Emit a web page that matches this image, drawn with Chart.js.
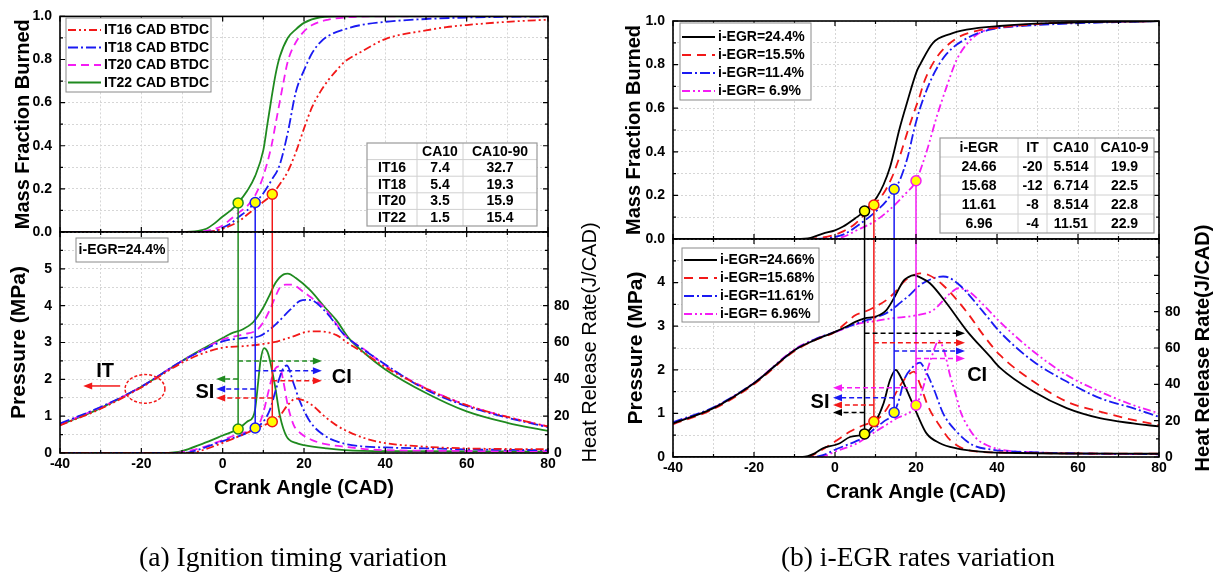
<!DOCTYPE html>
<html>
<head>
<meta charset="utf-8">
<title>Mass fraction burned, pressure and heat release rate</title>
<script src="https://cdn.jsdelivr.net/npm/chart.js@4.4.1/dist/chart.umd.min.js"></script>
<style>
  html, body { margin: 0; padding: 0; background: #fff; }
  #page { position: relative; width: 1215px; height: 577px; overflow: hidden; }
  #page canvas { position: absolute; left: 0; top: 0; }
  .caption { position: absolute; top: 542px; width: 600px; text-align: center; line-height: 30px;
             font-family: "Liberation Serif", "Times New Roman", serif; font-size: 27.5px; color: #000; }
</style>
</head>
<body>
<div id="page">
  <canvas id="aTop" width="1215" height="577"></canvas>
  <canvas id="aBot" width="1215" height="577"></canvas>
  <canvas id="bTop" width="1215" height="577"></canvas>
  <canvas id="bBot" width="1215" height="577"></canvas>
  <div class="caption" style="left:-7px">(a) Ignition timing variation</div>
  <div class="caption" style="left:618px">(b) i-EGR rates variation</div>
</div>
<script>
// ========== DATA (a): ignition timing, i-EGR = 24.4% ==========
const itLabels = ['IT16 CAD BTDC', 'IT18 CAD BTDC', 'IT20 CAD BTDC', 'IT22 CAD BTDC'];

// mass fraction burned
const aMfbCA16 = [-40, -4, 0, 2, 4, 6, 8, 10, 12.2, 14, 16, 18, 20, 22, 24, 26, 28, 30, 34, 40, 50, 55, 60, 70, 80];
const aMfb16 = [0, 0, 0.015, 0.03, 0.05, 0.08, 0.11, 0.14, 0.175, 0.22, 0.28, 0.37, 0.48, 0.58, 0.65, 0.705, 0.75, 0.79, 0.835, 0.895, 0.935, 0.95, 0.96, 0.975, 0.985];
const aMfbCA18 = [-40, -6, -2, 0, 2, 4, 6, 8, 10, 12, 14, 16, 18, 20, 22, 24, 26, 30, 34, 40, 50, 60, 80];
const aMfb18 = [0, 0, 0.005, 0.02, 0.04, 0.07, 0.1, 0.137, 0.18, 0.24, 0.31, 0.46, 0.65, 0.75, 0.83, 0.88, 0.91, 0.94, 0.96, 0.975, 0.988, 0.995, 1];
const aMfbCA20 = [-40, -8, -4, 0, 2, 4, 6, 8, 10, 12, 13, 14, 15, 16, 18, 20, 22, 26, 30, 40, 80];
const aMfb20 = [0, 0, 0.005, 0.03, 0.06, 0.09, 0.12, 0.17, 0.26, 0.4, 0.5, 0.6, 0.7, 0.79, 0.88, 0.93, 0.96, 0.985, 0.995, 1, 1];
const aMfbCA22 = [-40, -10, -6, -4, -2, 0, 2, 3.8, 6, 8, 10, 11, 12, 13, 14, 16, 18, 20, 24, 30, 80];
const aMfb22 = [0, 0, 0.005, 0.015, 0.04, 0.072, 0.1, 0.135, 0.19, 0.26, 0.38, 0.5, 0.62, 0.73, 0.81, 0.9, 0.94, 0.97, 0.995, 1, 1];

// cylinder pressure (MPa)
const aPCA16 = [-40, -30, -20, -10, -5, 0, 5, 10, 13, 17, 21.5, 24, 28, 31, 35, 40, 50, 60, 70, 80];
const aP16 = [0.75, 1.2, 1.78, 2.45, 2.7, 2.86, 2.9, 2.96, 3.02, 3.15, 3.3, 3.3, 3.2, 2.97, 2.7, 2.33, 1.75, 1.3, 0.98, 0.72];
const aPCA18 = [-40, -30, -20, -10, -5, 0, 5, 9, 11, 13.3, 16.6, 19, 20.7, 22.5, 25.6, 30, 35, 40, 50, 60, 70, 80];
const aP18 = [0.8, 1.25, 1.8, 2.5, 2.78, 3.03, 3.12, 3.17, 3.3, 3.52, 3.89, 4.13, 4.16, 4.12, 3.8, 3.2, 2.78, 2.4, 1.72, 1.27, 0.96, 0.7];
const aPCA20 = [-40, -30, -20, -10, -5, 0, 5, 8.4, 10, 11.6, 13, 14.1, 15.5, 17, 19.8, 22, 24.7, 27, 30, 35, 40, 50, 60, 70, 80];
const aP20 = [0.78, 1.24, 1.8, 2.5, 2.8, 3.08, 3.22, 3.34, 3.55, 3.89, 4.25, 4.5, 4.57, 4.57, 4.38, 4.2, 3.98, 3.65, 3.2, 2.8, 2.38, 1.76, 1.3, 0.98, 0.72];
const aPCA22 = [-40, -30, -20, -10, -5, 0, 2, 5, 7.5, 10, 11.6, 13, 15, 16, 18, 21.5, 25, 28, 31, 35, 40, 50, 60, 70, 80];
const aP22 = [0.76, 1.22, 1.8, 2.5, 2.82, 3.12, 3.24, 3.36, 3.55, 3.95, 4.3, 4.62, 4.85, 4.87, 4.75, 4.42, 3.97, 3.6, 3.12, 2.7, 2.27, 1.63, 1.13, 0.82, 0.6];

// heat release rate (J/CAD)
const aHCA16 = [-40, -8, -5, 0, 5, 10, 12.2, 14, 16, 18, 20, 22, 25, 28, 30, 35, 40, 50, 60, 80];
const aH16 = [0, 0, 1.5, 5.5, 10, 15, 17, 20, 26, 29.5, 28.5, 26, 20, 15, 12.5, 8, 5.4, 3.4, 2.5, 2];
const aHCA18 = [-40, -10, -8, -5, 0, 5, 8, 10, 11.6, 13.3, 14.9, 15.8, 17.4, 19, 21.5, 25, 30, 35, 40, 50, 60, 80];
const aH18 = [0, 0, 0.5, 2.5, 6.5, 10, 13.6, 17, 23.4, 36, 46, 47.5, 38, 28, 17, 9.5, 5, 3.5, 3, 2.5, 2, 1.5];
const aHCA20 = [-40, -12, -10, -5, 0, 5, 8.4, 10, 11, 12, 13, 14, 15, 16, 17.5, 19, 22, 25, 30, 40, 80];
const aH20 = [0, 0, 0.5, 3, 7, 11, 13.4, 22, 31, 40, 46, 47, 38, 26, 15, 11, 7, 5, 3.4, 1.5, 1];
const aHCA22 = [-40, -15, -12, -10, -5, 0, 3.8, 6, 7.5, 8, 8.8, 9.3, 10.2, 11, 11.6, 12.9, 14.1, 15.7, 18, 20, 25.6, 30, 40, 80];
const aH22 = [0, 0, 0.3, 1, 5, 9.5, 13, 17, 19.7, 24, 40, 50, 57, 55, 50.5, 36, 20, 9, 5.5, 4.3, 2.5, 1.6, 1, 0.8];

// marked points (series index, crank angle, MFB, HRR) and SI / CI arrows
const aMarkOf = [0, 1, 3];
const aMarkCA = [12.2, 8.0, 3.8];
const aMarkMfb = [0.175, 0.137, 0.135];
const aMarkHrr = [17, 13.6, 13];
const aSiP = [1.49, 1.74, 2.01];
const aCiP = [1.96, 2.23, 2.5];
const aSiEnd = -1.6;
const aCiEnd = 24.4;

// inset table
const aTableHead = ['', 'CA10', 'CA10-90'];
const aTableIT = ['IT16', 'IT18', 'IT20', 'IT22'];
const aCA10 = [7.4, 5.4, 3.5, 1.5];
const aCA1090 = [32.7, 19.3, 15.9, 15.4];

// ========== DATA (b): i-EGR rates ==========
const egrLabelsTop = ['i-EGR=24.4%', 'i-EGR=15.5%', 'i-EGR=11.4%', 'i-EGR= 6.9%'];
const egrLabelsBot = ['i-EGR=24.66%', 'i-EGR=15.68%', 'i-EGR=11.61%', 'i-EGR= 6.96%'];

const bMfbCA24 = [-40, -9.5, -6, -3, 0, 2, 5, 7.3, 10.3, 12, 13.6, 16, 17.7, 20.2, 21, 24.2, 28.4, 32.5, 40.7, 53, 80];
const bMfb24 = [0, 0, 0.005, 0.025, 0.04, 0.057, 0.095, 0.128, 0.19, 0.25, 0.33, 0.51, 0.62, 0.77, 0.8, 0.9, 0.94, 0.96, 0.977, 0.99, 1];
const bMfbCA15 = [-40, -7, -4, 0, 2, 5, 7.2, 9.6, 12, 14, 16, 17.7, 19.3, 21, 22, 25, 30, 35, 40.7, 53, 80];
const bMfb15 = [0, 0, 0.005, 0.02, 0.035, 0.07, 0.11, 0.156, 0.21, 0.28, 0.38, 0.48, 0.57, 0.66, 0.72, 0.83, 0.92, 0.955, 0.97, 0.99, 1];
const bMfbCA11 = [-40, -5, -2, 2, 7, 10.3, 12.5, 14.6, 16, 18, 19.5, 21, 24.2, 27.6, 32.5, 38.3, 48.9, 80];
const bMfb11 = [0, 0, 0.005, 0.02, 0.08, 0.13, 0.17, 0.228, 0.27, 0.38, 0.5, 0.6, 0.75, 0.85, 0.92, 0.96, 0.98, 1];
const bMfbCA6 = [-40, -2, 2, 5.4, 10.3, 14.4, 17, 20, 22.6, 25.1, 27.6, 30, 33.3, 37.4, 44.9, 80];
const bMfb6 = [0, 0, 0.01, 0.04, 0.087, 0.15, 0.2, 0.267, 0.4, 0.56, 0.7, 0.82, 0.91, 0.96, 0.98, 1];

const bPCA24 = [-40, -30, -20, -10, -5, 0, 3, 5, 7.3, 10, 12.7, 15, 16, 17, 18, 19.5, 21, 23.5, 27.6, 32.5, 38.3, 40.7, 49, 57.2, 65.4, 73.6, 80];
const bP24 = [0.77, 1.12, 1.69, 2.45, 2.68, 2.87, 3.0, 3.1, 3.18, 3.22, 3.37, 3.72, 3.9, 4.05, 4.12, 4.17, 4.12, 3.98, 3.52, 2.9, 2.3, 2.05, 1.5, 1.12, 0.89, 0.77, 0.7];
const bPCA15 = [-40, -30, -20, -10, -5, 0, 3, 5, 7.3, 10, 12.7, 15, 17, 19, 21, 23, 26.7, 32.5, 36.6, 40.7, 49, 57.2, 65.4, 73.6, 80];
const bP15 = [0.75, 1.1, 1.67, 2.43, 2.68, 2.87, 3.1, 3.25, 3.33, 3.45, 3.6, 3.8, 4.02, 4.15, 4.21, 4.18, 3.94, 3.33, 2.8, 2.34, 1.73, 1.27, 1.04, 0.85, 0.73];
const bPCA11 = [-40, -30, -20, -10, -5, 0, 5, 7.3, 10, 12.7, 15, 16, 18.5, 21, 24.3, 26.7, 28, 30.8, 36.6, 40.7, 49, 57.2, 65.4, 73.6, 80];
const bP11 = [0.8, 1.14, 1.7, 2.45, 2.7, 2.87, 3.05, 3.12, 3.2, 3.3, 3.45, 3.53, 3.72, 3.94, 4.1, 4.14, 4.12, 3.94, 3.33, 2.87, 2.19, 1.73, 1.35, 1.12, 0.92];
const bPCA6 = [-40, -30, -20, -10, -5, 0, 5, 10, 14, 20, 24.3, 28.4, 30.5, 33, 36, 40.7, 49, 57.2, 65.4, 73.6, 80];
const bP6 = [0.78, 1.13, 1.7, 2.47, 2.7, 2.86, 3.04, 3.12, 3.18, 3.25, 3.37, 3.75, 3.87, 3.8, 3.55, 3.1, 2.42, 1.88, 1.5, 1.19, 1.0];

const bHCA24 = [-40, -8, -5, -3, 0, 1.2, 3.7, 7.3, 10, 12, 13.6, 15, 16, 17.7, 20.2, 22.6, 25.9, 30, 35.8, 45, 80];
const bH24 = [0, 0, 2, 4.8, 6.6, 7.6, 11, 12.7, 19.5, 29.6, 42.5, 48, 45, 37, 24, 13, 7.6, 4.8, 3, 2.2, 1.8];
const bHCA15 = [-40, -7, -4, 0, 3.7, 7, 9.6, 12, 14, 16, 18, 19.5, 21, 23, 26, 28.4, 32.5, 40, 80];
const bH15 = [0, 0, 3, 8.5, 14, 17.5, 19.5, 24, 31, 39, 45, 47, 40, 27.8, 16.7, 9.4, 4, 2.5, 1.8];
const bHCA11 = [-40, -6, -3, 0, 5, 7.3, 10, 12, 14.6, 16, 17, 19, 21, 22, 24.3, 26.7, 30, 34, 39, 50, 80];
const bH11 = [0, 0, 1, 4, 8.5, 11, 16, 19.5, 24.5, 33, 42, 49, 52, 49, 38, 24, 14, 6.6, 4, 2.5, 1.5];
const bHCA6 = [-40, -5, -2, 0, 5, 10, 15, 20, 22, 22.6, 24, 25.6, 27, 28.4, 30, 31, 33, 35, 38, 41, 50, 80];
const bH6 = [0, 0, 1, 3, 7, 14, 21, 28.5, 40, 46, 56, 64, 58, 45, 33, 25, 16, 10, 6, 4, 2.5, 1.5];

const bMarkCA = [7.3, 9.6, 14.6, 20.0];
const bMarkMfb = [0.128, 0.156, 0.228, 0.267];
const bMarkHrr = [12.7, 19.5, 24.5, 28.5];
const bSiP = [1.02, 1.19, 1.36, 1.59];
const bCiP = [2.84, 2.62, 2.43, 2.26];
const bSiEnd = -0.5;
const bCiEnd = 32.1;

const bTableHead = ['i-EGR', 'IT', 'CA10', 'CA10-9'];
const bEgr = ['24.66', '15.68', '11.61', '6.96'];
const bIT = [-20, -12, -8, -4];
const bCA10 = ['5.514', '6.714', '8.514', '11.51'];
const bCA1090 = [19.9, 22.5, 22.8, 22.9];

// ========== STYLE ==========
const FONT = '"Liberation Sans", Arial, sans-serif';
Chart.defaults.font.family = FONT;
Chart.defaults.color = '#000';

const RED = '#f21818', BLUE = '#1a1af2', MAG = '#f41cf4', GREEN = '#1f8a1f', BLACK = '#000';
const D_DDOT = [8, 3, 2, 3, 2, 3];
const D_DOT = [10, 3, 2, 3];
const D_DASH = [8, 5];

const aColors = [RED, BLUE, MAG, GREEN];
const aDashes = [D_DDOT, D_DOT, D_DASH, []];
const bColors = [BLACK, RED, BLUE, MAG];
const bDashes = [[], [9, 6], D_DOT, D_DDOT];

const gridStyle = { color: '#d6d6d6', lineWidth: 1, drawTicks: false };
const gridBorder = { display: false, dash: [2, 2] };
const tickFont = { size: 14, weight: 'bold' };

// ========== HELPERS ==========
const pts = (ca, v) => ca.map((x, i) => ({ x: x, y: v[i] }));

function curve(ca, v, color, dash, axis) {
    return {
        data: pts(ca, v), yAxisID: axis || 'y',
        borderColor: color, borderDash: dash, borderWidth: 1.8,
        pointRadius: 0, fill: false, cubicInterpolationMode: 'monotone', order: 2
    };
}

function dropLine(x, y0, y1, color, axis) {
    return {
        data: [{ x: x, y: y0 }, { x: x, y: y1 }], yAxisID: axis || 'y',
        borderColor: color, borderWidth: 1.5, pointRadius: 0, order: 1
    };
}

function marker(x, y, color, axis) {
    return {
        data: [{ x: x, y: y }], yAxisID: axis || 'y', showLine: false,
        pointRadius: 5, pointBackgroundColor: '#ffff00', pointBorderColor: color,
        pointBorderWidth: 1.5, order: 0
    };
}

function xScale(withLabels) {
    return {
        type: 'linear', min: -40, max: 80,
        grid: gridStyle, border: gridBorder,
        ticks: {
            display: withLabels, stepSize: 10, autoSkip: false, maxRotation: 0, padding: 3, font: tickFont,
            callback: (v) => (v % 20 === 0 ? String(v) : '')
        },
        title: withLabels
            ? { display: true, text: 'Crank Angle (CAD)', font: { size: 20, weight: 'bold' }, padding: { top: 0, bottom: 3 } }
            : { display: false },
        afterFit: (s) => { s.height = withLabels ? 50 : 0; }
    };
}

function mfbScale(width, titlePad) {
    return {
        min: 0, max: 1, grid: gridStyle, border: gridBorder,
        ticks: {
            stepSize: 0.1, autoSkip: false, padding: 8, font: tickFont,
            callback: (v) => (Math.round(v * 10) % 2 === 0 ? v.toFixed(1) : '')
        },
        title: { display: true, text: 'Mass Fraction Burned', font: { size: 20, weight: 'bold' }, padding: { top: titlePad, bottom: 0 } },
        afterFit: (s) => { s.width = width; }
    };
}

function pressureScale(max, width, titlePad) {
    return {
        min: 0, max: max, grid: gridStyle, border: gridBorder,
        ticks: {
            stepSize: 0.5, autoSkip: false, padding: 8, font: tickFont,
            callback: (v) => (Number.isInteger(v) && v < max ? String(v) : '')
        },
        title: { display: true, text: 'Pressure (MPa)', font: { size: 21, weight: 'bold' }, padding: { top: titlePad, bottom: 0 } },
        afterFit: (s) => { s.width = width; }
    };
}

function hrrScale() {
    return {
        position: 'right', min: 0, max: 120,
        grid: { display: false, drawTicks: false }, border: { display: false },
        ticks: {
            stepSize: 10, autoSkip: false, padding: 6, font: tickFont,
            callback: (v) => (v % 20 === 0 && v <= 80 ? String(v) : '')
        },
        afterFit: (s) => { s.width = 40; }
    };
}

function eachTick(scale, major, minor, fn) {
    const n = Math.round((scale.max - scale.min) / minor);
    for (let i = 0; i <= n; i++) {
        const v = scale.min + i * minor;
        const r = v / major;
        fn(scale.getPixelForValue(v), Math.abs(r - Math.round(r)) < 1e-6);
    }
}

function drawInwardTicks(chart, spec) {
    const ctx = chart.ctx, a = chart.chartArea;
    ctx.strokeStyle = '#000';
    ctx.lineWidth = 1.2;
    ctx.setLineDash([]);
    ctx.beginPath();
    eachTick(chart.scales.x, 20, 10, (p, big) => {
        const l = big ? 5 : 3;
        ctx.moveTo(p, a.bottom); ctx.lineTo(p, a.bottom - l);
        ctx.moveTo(p, a.top); ctx.lineTo(p, a.top + l);
    });
    eachTick(chart.scales.y, spec.left[0], spec.left[1], (p, big) => {
        ctx.moveTo(a.left, p); ctx.lineTo(a.left + (big ? 5 : 3), p);
    });
    eachTick(chart.scales[spec.rightId], spec.right[0], spec.right[1], (p, big) => {
        ctx.moveTo(a.right, p); ctx.lineTo(a.right - (big ? 5 : 3), p);
    });
    ctx.stroke();
}

function framePlugin(spec, extra) {
    return {
        id: 'frame',
        afterDraw(chart) {
            const ctx = chart.ctx, a = chart.chartArea;
            ctx.save();
            drawInwardTicks(chart, spec);
            ctx.setLineDash([]);
            ctx.strokeStyle = '#000';
            ctx.lineWidth = 1.6;
            ctx.strokeRect(a.left, a.top, a.right - a.left, a.bottom - a.top);
            if (extra) extra(chart, ctx);
            ctx.restore();
        }
    };
}

function text(ctx, str, x, y, size, weight, align) {
    ctx.font = (weight || 'bold') + ' ' + size + 'px ' + FONT;
    ctx.fillStyle = '#000';
    ctx.textAlign = align || 'center';
    ctx.textBaseline = 'middle';
    ctx.fillText(str, x, y);
}

function vText(ctx, str, x, y, size, weight) {
    ctx.save();
    ctx.translate(x, y);
    ctx.rotate(-Math.PI / 2);
    text(ctx, str, 0, 0, size, weight);
    ctx.restore();
}

function drawLegend(ctx, box, rowY, labels, colors, dashes) {
    ctx.fillStyle = '#fff';
    ctx.fillRect(box.x, box.y, box.w, box.h);
    ctx.strokeStyle = '#8a8a8a';
    ctx.lineWidth = 1;
    ctx.setLineDash([]);
    ctx.strokeRect(box.x, box.y, box.w, box.h);
    labels.forEach((lab, i) => {
        const y = rowY[0] + i * rowY[1];
        ctx.strokeStyle = colors[i];
        ctx.lineWidth = 2;
        ctx.setLineDash(dashes[i]);
        ctx.beginPath();
        ctx.moveTo(box.x + 2, y);
        ctx.lineTo(box.x + 35, y);
        ctx.stroke();
        ctx.setLineDash([]);
        text(ctx, lab, box.x + 38, y + 0.5, 14, 'bold', 'left');
    });
}

function drawTable(ctx, x, y, colW, rowH, rows) {
    const w = colW.reduce((s, c) => s + c, 0), h = rowH * rows.length;
    ctx.setLineDash([]);
    ctx.fillStyle = '#fff';
    ctx.fillRect(x, y, w, h);
    ctx.strokeStyle = '#d0d0d0';
    ctx.lineWidth = 1;
    ctx.beginPath();
    for (let r = 1; r < rows.length; r++) { ctx.moveTo(x, y + r * rowH); ctx.lineTo(x + w, y + r * rowH); }
    let cx = x;
    for (let c = 0; c < colW.length - 1; c++) { cx += colW[c]; ctx.moveTo(cx, y); ctx.lineTo(cx, y + h); }
    ctx.stroke();
    ctx.strokeStyle = '#9a9a9a';
    ctx.lineWidth = 1.2;
    ctx.strokeRect(x, y, w, h);
    rows.forEach((row, r) => {
        let left = x;
        row.forEach((cell, c) => {
            text(ctx, String(cell), left + colW[c] / 2, y + r * rowH + rowH / 2 + 0.5, 14, 'bold');
            left += colW[c];
        });
    });
}

function arrow(ctx, x1, y, x2, color, dashed) {
    const dir = Math.sign(x2 - x1);
    ctx.strokeStyle = color;
    ctx.fillStyle = color;
    ctx.lineWidth = 1.5;
    ctx.setLineDash(dashed ? [5, 3] : []);
    ctx.beginPath();
    ctx.moveTo(x1, y);
    ctx.lineTo(x2 - dir * 7, y);
    ctx.stroke();
    ctx.setLineDash([]);
    ctx.beginPath();
    ctx.moveTo(x2, y);
    ctx.lineTo(x2 - dir * 9, y - 3.5);
    ctx.lineTo(x2 - dir * 9, y + 3.5);
    ctx.closePath();
    ctx.fill();
}

function buildChart(id, padding, datasets, scales, tickSpec, extra) {
    return new Chart(document.getElementById(id), {
        type: 'line',
        data: { datasets: datasets },
        options: {
            responsive: false, animation: false, events: [],
            layout: { autoPadding: false, padding: padding },
            plugins: { legend: { display: false }, tooltip: { enabled: false } },
            scales: scales
        },
        plugins: [framePlugin(tickSpec, extra)]
    });
}

// ========== PANEL (a) ==========
const aMfbSeries = [[aMfbCA16, aMfb16], [aMfbCA18, aMfb18], [aMfbCA20, aMfb20], [aMfbCA22, aMfb22]];
const aPSeries = [[aPCA16, aP16], [aPCA18, aP18], [aPCA20, aP20], [aPCA22, aP22]];
const aHSeries = [[aHCA16, aH16], [aHCA18, aH18], [aHCA20, aH20], [aHCA22, aH22]];

const aTopSets = [];
aMarkCA.forEach((c, i) => {
    const col = aColors[aMarkOf[i]];
    aTopSets.push(marker(c, aMarkMfb[i], col));
    aTopSets.push(dropLine(c, aMarkMfb[i], 0, col));
});
aMfbSeries.forEach((s, i) => aTopSets.push(curve(s[0], s[1], aColors[i], aDashes[i])));

buildChart('aTop', { left: 0, top: 12, right: 667, bottom: 345 }, aTopSets,
    { x: xScale(false), y: mfbScale(60, 11) },
    { left: [0.2, 0.1], rightId: 'y', right: [0.2, 0.1] },
    (chart, ctx) => {
        drawLegend(ctx, { x: 66, y: 18, w: 145, h: 74 }, [30, 17.5], itLabels, aColors, aDashes);
        const rows = [aTableHead].concat(aTableIT.map((n, i) => [n, aCA10[i].toFixed(1), aCA1090[i].toFixed(1)]));
        drawTable(ctx, 367, 143, [50, 46, 74], 16.6, rows);
    });

const aBotSets = [];
aMarkCA.forEach((c, i) => {
    const col = aColors[aMarkOf[i]];
    aBotSets.push(marker(c, aMarkHrr[i], col, 'y2'));
    aBotSets.push(dropLine(c, 120, aMarkHrr[i], col, 'y2'));
});
aPSeries.forEach((s, i) => aBotSets.push(curve(s[0], s[1], aColors[i], aDashes[i], 'y')));
aHSeries.forEach((s, i) => aBotSets.push(curve(s[0], s[1], aColors[i], aDashes[i], 'y2')));

buildChart('aBot', { left: 0, top: 232, right: 627, bottom: 74 }, aBotSets,
    { x: xScale(true), y: pressureScale(6, 60, 7), y2: hrrScale() },
    { left: [1, 0.5], rightId: 'y2', right: [20, 10] },
    (chart, ctx) => {
        const a = chart.chartArea;
        const X = (v) => chart.scales.x.getPixelForValue(v);
        const P = (v) => chart.scales.y.getPixelForValue(v);
        // condition box
        ctx.fillStyle = '#fff';
        ctx.fillRect(76, 238, 92, 24);
        ctx.strokeStyle = '#8a8a8a'; ctx.lineWidth = 1; ctx.setLineDash([]);
        ctx.strokeRect(76, 238, 92, 24);
        text(ctx, 'i-EGR=24.4%', 122, 250.5, 14, 'bold');
        // ignition timing marker
        ctx.strokeStyle = RED; ctx.lineWidth = 1.5; ctx.setLineDash([3, 2]);
        ctx.beginPath();
        ctx.ellipse(X(-19.1), P(1.74), X(-19.1 + 4.9) - X(-19.1), P(1.74) - P(1.74 + 0.39), 0, 0, Math.PI * 2);
        ctx.stroke();
        arrow(ctx, X(-25.2), P(1.82), X(-34.3), RED, false);
        text(ctx, 'IT', X(-28.9), P(2.2), 20, 'bold');
        // SI / CI arrows from each marked line
        aMarkCA.forEach((c, i) => {
            const col = aColors[aMarkOf[i]];
            arrow(ctx, X(c), P(aSiP[i]), X(aSiEnd), col, true);
            arrow(ctx, X(c), P(aCiP[i]), X(aCiEnd), col, true);
        });
        text(ctx, 'SI', X(-4.35), P(1.63), 20, 'bold');
        text(ctx, 'CI', X(29.3), P(2.04), 20, 'bold');
        vText(ctx, 'Heat Release Rate(J/CAD)', 590, (a.top + a.bottom) / 2, 20, 'normal');
    });

// ========== PANEL (b) ==========
const bMfbSeries = [[bMfbCA24, bMfb24], [bMfbCA15, bMfb15], [bMfbCA11, bMfb11], [bMfbCA6, bMfb6]];
const bPSeries = [[bPCA24, bP24], [bPCA15, bP15], [bPCA11, bP11], [bPCA6, bP6]];
const bHSeries = [[bHCA24, bH24], [bHCA15, bH15], [bHCA11, bH11], [bHCA6, bH6]];

const bTopSets = [];
bMarkCA.forEach((c, i) => {
    bTopSets.push(marker(c, bMarkMfb[i], bColors[i]));
    bTopSets.push(dropLine(c, bMarkMfb[i], 0, bColors[i]));
});
bMfbSeries.forEach((s, i) => bTopSets.push(curve(s[0], s[1], bColors[i], bDashes[i])));

buildChart('bTop', { left: 610, top: 21, right: 56, bottom: 338 }, bTopSets,
    { x: xScale(false), y: mfbScale(63, 12) },
    { left: [0.2, 0.1], rightId: 'y', right: [0.2, 0.1] },
    (chart, ctx) => {
        drawLegend(ctx, { x: 680, y: 23, w: 131, h: 77 }, [37, 18], egrLabelsTop, bColors, bDashes);
        const rows = [bTableHead].concat(bEgr.map((e, i) => [e, bIT[i], bCA10[i], bCA1090[i].toFixed(1)]));
        drawTable(ctx, 940, 138, [78, 29, 48, 59], 19, rows);
    });

const bBotSets = [];
bMarkCA.forEach((c, i) => {
    bBotSets.push(marker(c, bMarkHrr[i], bColors[i], 'y2'));
    bBotSets.push(dropLine(c, 120, bMarkHrr[i], bColors[i], 'y2'));
});
bPSeries.forEach((s, i) => bBotSets.push(curve(s[0], s[1], bColors[i], bDashes[i], 'y')));
bHSeries.forEach((s, i) => bBotSets.push(curve(s[0], s[1], bColors[i], bDashes[i], 'y2')));

buildChart('bBot', { left: 610, top: 239, right: 16, bottom: 70 }, bBotSets,
    { x: xScale(true), y: pressureScale(5, 63, 14), y2: hrrScale() },
    { left: [1, 0.5], rightId: 'y2', right: [20, 10] },
    (chart, ctx) => {
        const a = chart.chartArea;
        const X = (v) => chart.scales.x.getPixelForValue(v);
        const P = (v) => chart.scales.y.getPixelForValue(v);
        drawLegend(ctx, { x: 682, y: 248, w: 137, h: 74 }, [260, 18], egrLabelsBot, bColors, bDashes);
        bMarkCA.forEach((c, i) => {
            arrow(ctx, X(c), P(bSiP[i]), X(bSiEnd), bColors[i], true);
            arrow(ctx, X(c), P(bCiP[i]), X(bCiEnd), bColors[i], true);
        });
        text(ctx, 'SI', X(-3.7), P(1.26), 20, 'bold');
        text(ctx, 'CI', X(35.1), P(1.88), 20, 'bold');
        vText(ctx, 'Heat Release Rate(J/CAD)', 1203, (a.top + a.bottom) / 2, 20, 'bold');
    });
</script>
</body>
</html>
